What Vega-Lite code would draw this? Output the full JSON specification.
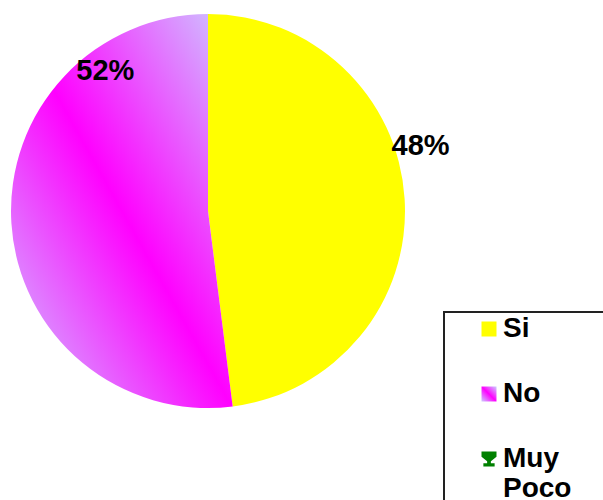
{
  "$schema": "https://vega.github.io/schema/vega-lite/v6.json",
  "width": 416,
  "height": 422,
  "padding": {"left": 0, "top": 0, "right": 187, "bottom": 78},
  "autosize": {"type": "none"},
  "background": "white",
  "config": {"view": {"stroke": null}},
  "data": {
    "values": [
      {"cat": "Si", "value": 48, "label": "48%"},
      {"cat": "No", "value": 52, "label": "52%"},
      {"cat": "Muy Poco", "value": 0, "label": ""}
    ]
  },
  "layer": [
    {
      "mark": {"type": "arc", "radius": 197},
      "encoding": {
        "theta": {"field": "value", "type": "quantitative", "stack": true},
        "order": {"field": "cat", "sort": "descending"},
        "color": {
          "field": "cat",
          "type": "nominal",
          "scale": {
            "domain": ["Si", "No", "Muy Poco"],
            "range": [
              "#ffff00",
              {"expr": "{gradient: 'linear', x1: 1, y1: 0, x2: 0, y2: 1, stops: [{offset: 0, color: '#ccccff'}, {offset: 0.5, color: '#ff00ff'}, {offset: 1, color: '#ccccff'}]}"},
              "#008000"
            ]
          },
          "legend": {
            "orient": "none",
            "legendX": 444,
            "legendY": 312,
            "title": " ",
            "titleOrient": "right",
            "titlePadding": 42,
            "strokeColor": "#222222",
            "padding": 3,
            "symbolType": "square",
            "symbolSize": 225,
            "symbolStrokeWidth": 0,
            "symbolOffset": 28,
            "labelOffset": 0,
            "labelFont": "Liberation Sans",
            "labelFontWeight": "bold",
            "labelFontSize": 28,
            "labelColor": "black",
            "rowPadding": 37,
            "labelExpr": "datum.label === 'Muy Poco' ? ['Muy', 'Poco'] : datum.label",
            "encode": {
              "legend": {
                "update": {"strokeWidth": {"value": 2}}
              },
              "symbols": {
                "update": {
                  "shape": {"signal": "datum.label === 'Muy Poco' ? 'M-1,-1H1V-0.3L0.25,0.3V0.55H0.75V1H-0.75V0.55H-0.25V0.3L-1,-0.3Z' : 'square'"}
                }
              },
              "labels": {
                "update": {"lineHeight": {"value": 30}}
              }
            }
          }
        }
      }
    },
    {
      "mark": {"type": "text", "radius": 220, "dx": -7, "dy": -51, "font": "Liberation Sans", "fontWeight": "bold", "fontSize": 29},
      "encoding": {
        "theta": {"field": "value", "type": "quantitative", "stack": true},
        "order": {"field": "cat", "sort": "descending"},
        "detail": {"field": "cat"},
        "color": {"value": "black"},
        "text": {"condition": {"test": "datum.cat === 'Si'", "field": "label"}, "value": ""}
      }
    },
    {
      "mark": {"type": "text", "radius": 173, "dx": 70, "dy": -151, "font": "Liberation Sans", "fontWeight": "bold", "fontSize": 29},
      "encoding": {
        "theta": {"field": "value", "type": "quantitative", "stack": true},
        "order": {"field": "cat", "sort": "descending"},
        "detail": {"field": "cat"},
        "color": {"value": "black"},
        "text": {"condition": {"test": "datum.cat === 'No'", "field": "label"}, "value": ""}
      }
    }
  ]
}
